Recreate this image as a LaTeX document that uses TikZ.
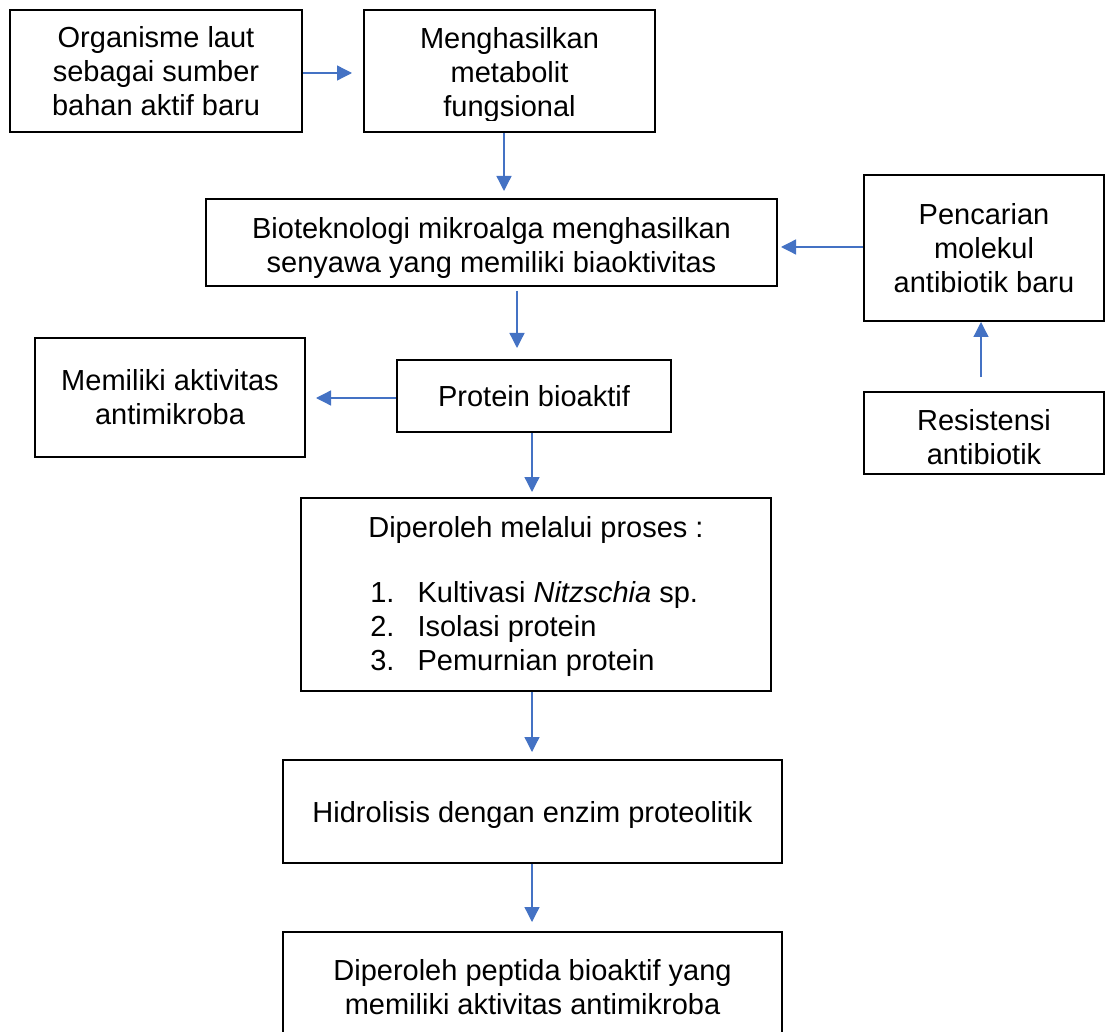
\documentclass[tikz,border=0pt]{standalone}
\usepackage{fontspec}
\setmainfont{Liberation Sans}
\usepackage{tikz}
\usetikzlibrary{arrows.meta, positioning}
\definecolor{arrowblue}{HTML}{4472C4}
\definecolor{boxblack}{HTML}{000000}

\begin{document}
\begin{tikzpicture}[
  x=1pt, y=-1pt,
  block/.style={draw=boxblack, line width=2pt, inner sep=0pt, align=center,
                font=\fontsize{29}{34}\selectfont},
  blocktext/.style={inner sep=0pt, align=center, font=\fontsize{29}{34}\selectfont},
  flow/.style={draw=arrowblue, line width=1.3pt, -{Triangle[length=15pt, width=15pt]}},
]
\clip (0,0) rectangle (1106,1032);

% top row
\node[block, minimum width=292pt, minimum height=122pt] (organisme) at (156,71)
  {Organisme laut\\sebagai sumber\\bahan aktif baru};
\node[block, minimum width=291pt, minimum height=122pt] (metabolit) at (509.5,71) {};
\begin{scope}
  \clip (metabolit.north west) rectangle ([yshift=12pt]metabolit.south east);
  \node[blocktext] (metabolittext) at ([yshift=-4pt]metabolit.center) {Menghasilkan\\metabolit\\fungsional};
\end{scope}

% middle
\node[block, minimum width=571pt, minimum height=87pt, text height=66.8pt] (bioteknologi) at (491.5,242.5)
  {Bioteknologi mikroalga menghasilkan\\senyawa yang memiliki biaoktivitas};
\node[block, minimum width=240pt, minimum height=146pt] (pencarian) at (984,248)
  {Pencarian\\molekul\\antibiotik baru};
\node[block, minimum width=240pt, minimum height=82pt, text height=62.8pt] (resistensi) at (984,433)
  {Resistensi\\antibiotik};
\node[block, minimum width=274pt, minimum height=72pt] (protein) at (534,396)
  {Protein bioaktif};
\node[block, minimum width=270pt, minimum height=119pt] (antimikroba) at (170,397.5)
  {Memiliki aktivitas\\antimikroba};

% lower column
\node[block, minimum width=470pt, minimum height=193pt, text height=29.8pt] (proses) at (536,594.5)
  {\begin{tabular}[t]{@{\hspace{8pt}}l@{\hspace{23pt}}l@{}}
   \multicolumn{2}{c}{Diperoleh melalui proses :}\\[31pt]
   1. & Kultivasi \textit{Nitzschia} sp.\\
   2. & Isolasi protein\\
   3. & Pemurnian protein
   \end{tabular}};
\node[block, minimum width=499pt, minimum height=103pt, text height=28.8pt] (hidrolisis) at (532.5,811.5)
  {Hidrolisis dengan enzim proteolitik};
\node[block, minimum width=499pt, minimum height=110pt] (peptida) at (532.5,987)
  {Diperoleh peptida bioaktif yang\\memiliki aktivitas antimikroba};

% connectors
\draw[flow, shorten >=11pt] (organisme.east |- 0,73) -- (metabolit.west |- 0,73);
\draw[flow, shorten >=7pt] (metabolit.south -| 504,0) -- (bioteknologi.north -| 504,0);
\draw[flow, shorten >=3pt] (pencarian.west |- 0,247) -- (bioteknologi.east |- 0,247);
\draw[flow, shorten <=14pt] (resistensi.north -| 981,0) -- (pencarian.south -| 981,0);
\draw[flow, shorten <=4pt, shorten >=11pt] (bioteknologi.south -| 517,0) -- (protein.north -| 517,0);
\draw[flow, shorten >=10pt] (protein.west |- 0,398) -- (antimikroba.east |- 0,398);
\draw[flow, shorten >=5pt] (protein.south -| 532,0) -- (proses.north -| 532,0);
\draw[flow, shorten >=7pt] (proses.south -| 532,0) -- (hidrolisis.north -| 532,0);
\draw[flow, shorten >=9pt] (hidrolisis.south -| 532,0) -- (peptida.north -| 532,0);

\end{tikzpicture}
\end{document}
